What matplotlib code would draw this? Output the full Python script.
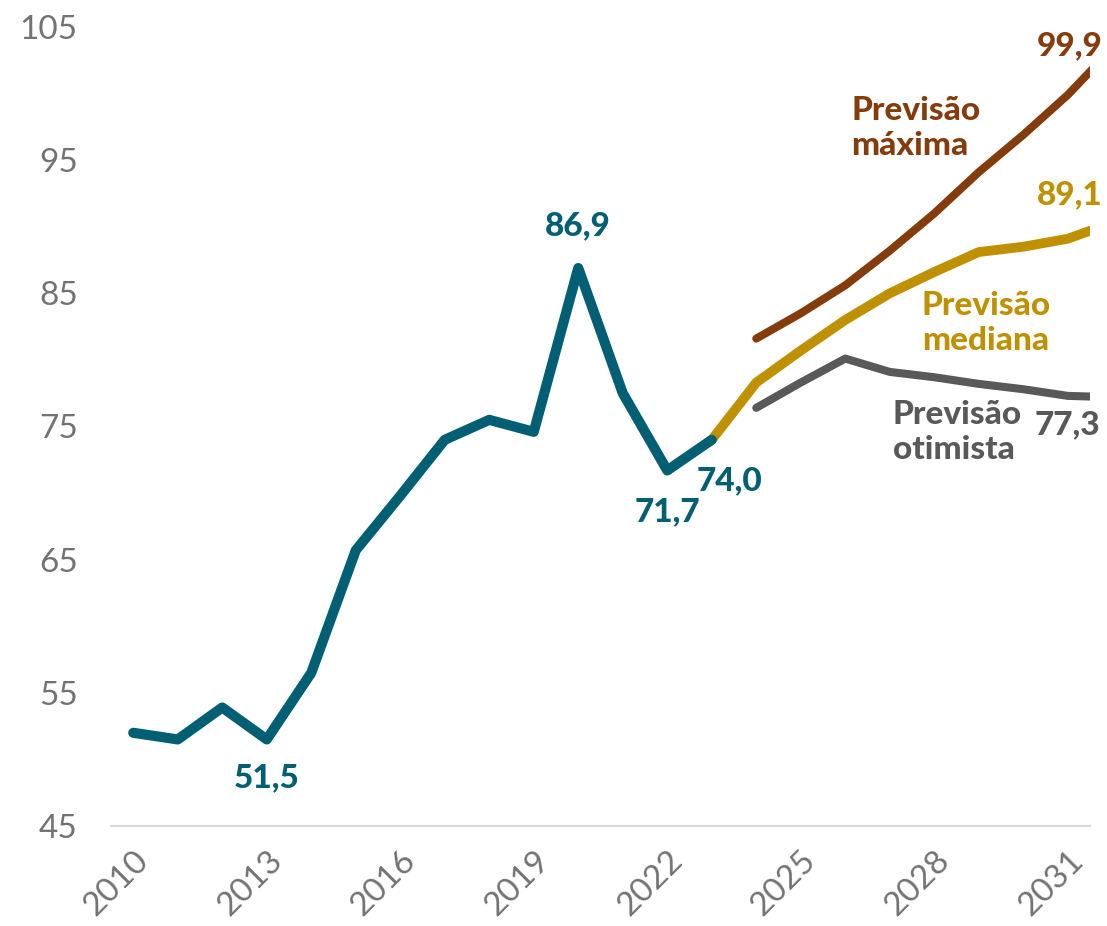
import matplotlib
matplotlib.use("Agg")
import matplotlib.pyplot as plt

# ---- data ----
hist_years = list(range(2010, 2024))
hist_values = [52.0, 51.5, 53.9, 51.5, 56.5, 65.7, 69.8, 74.0, 75.5, 74.6, 86.9, 77.5, 71.7, 74.0]

fc_years_median = list(range(2023, 2033))
median_values = [74.0, 78.3, 80.7, 83.0, 85.0, 86.6, 88.1, 88.5, 89.1, 90.3]

fc_years = list(range(2024, 2033))
max_values = [81.6, 83.5, 85.6, 88.2, 91.0, 94.1, 96.9, 99.9, 103.4]
opt_values = [76.4, 78.3, 80.1, 79.1, 78.7, 78.2, 77.8, 77.3, 77.2]

x_ticks = [2010, 2013, 2016, 2019, 2022, 2025, 2028, 2031]
y_ticks = [45, 55, 65, 75, 85, 95, 105]

C_BLUE = "#005F73"
C_BROWN = "#843C0C"
C_GOLD = "#BF9000"
C_GRAY = "#595959"
C_TICK = "#737373"

plt.rcParams['font.family'] = ['Lato', 'DejaVu Sans']

fig = plt.figure(figsize=(11.07, 9.26), dpi=100)
ax = fig.add_axes([111/1107, 100/926, (1090-111)/1107, (826-27)/926])

ax.plot(fc_years, max_values, color=C_BROWN, lw=5.8, solid_capstyle='round', solid_joinstyle='round')
ax.plot(fc_years, opt_values, color=C_GRAY, lw=5.8, solid_capstyle='round', solid_joinstyle='round')
ax.plot(fc_years_median, median_values, color=C_GOLD, lw=7, solid_capstyle='round', solid_joinstyle='round')
ax.plot(hist_years, hist_values, color=C_BLUE, lw=7.3, solid_capstyle='round', solid_joinstyle='round')

ax.set_xlim(2009.5, 2031.5)
ax.set_ylim(45, 105)
ax.set_xticks(x_ticks)
ax.set_xticklabels([str(t) for t in x_ticks], rotation=45, ha='right', va='top',
                   rotation_mode='anchor', fontsize=24, color=C_TICK)
ax.set_yticks(y_ticks)
ax.set_yticklabels([str(t) for t in y_ticks], fontsize=24, color=C_TICK)
ax.tick_params(axis='both', length=0)
ax.tick_params(axis='x', pad=14)
ax.tick_params(axis='y', pad=24)
for s in ['top', 'right', 'left']:
    ax.spines[s].set_visible(False)
ax.spines['bottom'].set_color('#D9D9D9')
ax.spines['bottom'].set_linewidth(1.5)

bold = dict(fontsize=24, fontweight='black', ha='center', va='center', clip_on=False)
ax.text(2020.0, 90.1, "86,9", color=C_BLUE, **bold)
ax.text(2013.0, 48.6, "51,5", color=C_BLUE, **bold)
ax.text(2022.0, 68.6, "71,7", color=C_BLUE, **bold)
ax.text(2023.4, 70.9, "74,0", color=C_BLUE, **bold)
ax.text(2031.05, 103.6, "99,9", color=C_BROWN, **bold)
ax.text(2031.05, 92.4, "89,1", color=C_GOLD, **bold)
ax.text(2031.0, 75.1, "77,3", color=C_GRAY, **bold)

lab = dict(fontsize=24, fontweight='black', ha='left', va='center', linespacing=1.25, clip_on=False)
ax.text(2026.13, 97.4, "Previsão\nmáxima", color=C_BROWN, **lab)
ax.text(2027.72, 82.8, "Previsão\nmediana", color=C_GOLD, **lab)
ax.text(2027.07, 74.6, "Previsão\notimista", color=C_GRAY, **lab)

fig.savefig("out.png", dpi=100)
